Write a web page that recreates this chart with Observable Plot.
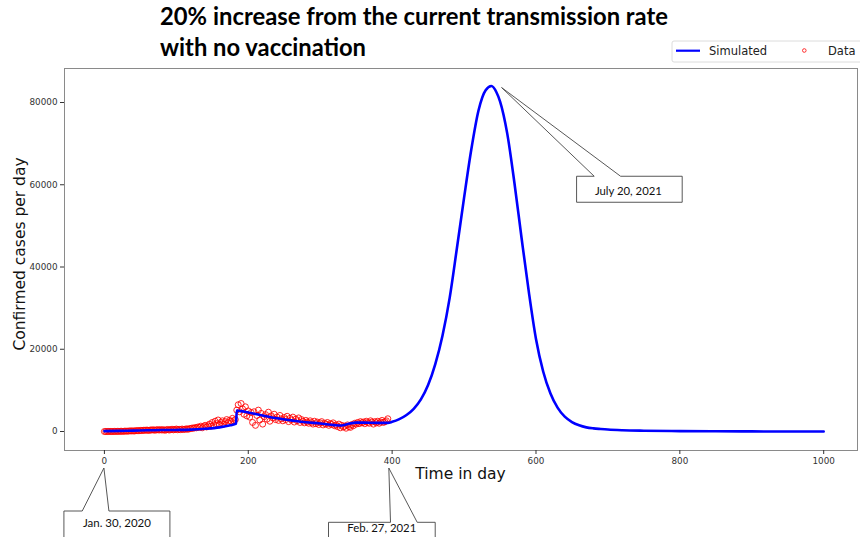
<!DOCTYPE html>
<html><head><meta charset="utf-8">
<script src="https://cdn.jsdelivr.net/npm/d3@7"></script>
<script src="https://cdn.jsdelivr.net/npm/@observablehq/plot@0.6"></script>
<style>
body{margin:0;background:#fff;}
#chart{width:860px;height:537px;overflow:hidden;}
</style></head>
<body><div id="chart"></div>
<script>
// ---- data ----
const titleLines = ["20% increase from the current transmission rate", "with no vaccination"];
const xLabel = "Time in day";
const yLabel = "Confirmed cases per day";
const xTicks = [0, 200, 400, 600, 800, 1000];
const yTicks = [0, 20000, 40000, 60000, 80000];
const legendLabels = ["Simulated", "Data"];

const simDays = [0,20,40,60,80,100,120,140,160,175,183,184,190,200,220,240,260,280,300,320,330,340,350,360,380,394,400,410,420,430,440,450,460,470,480,490,500,510,520,530,538,545,550,560,570,580,590,600,610,620,630,640,650,660,670,680,690,700,720,750,800,850,900,950,1000];
const simValues = [100,150,220,300,350,380,450,650,1000,1500,1900,5100,4950,4600,3900,3200,2700,2250,1950,1550,1450,1900,2150,2150,2100,2100,2350,3000,4000,5500,7800,11300,16400,23300,32500,44500,56800,68500,78000,83000,84000,82500,80300,72500,60500,47000,34000,22500,14600,9300,5800,3600,2300,1500,1000,750,600,470,310,190,90,45,20,10,5];

const obsDays = [
0,2,4,6,8,10,12,14,16,18,20,22,24,26,28,30,32,34,36,38,
40,42,44,46,48,50,52,54,56,58,60,62,64,66,68,70,72,74,76,78,
80,82,84,86,88,90,92,94,96,98,100,102,104,106,108,110,112,114,116,118,
120,122,124,126,128,130,132,134,136,138,140,142,144,146,148,150,152,154,156,158,
160,162,164,166,168,170,172,174,176,178,180,182,184,186,188,190,192,194,196,198,
200,202,204,206,208,210,212,214,216,218,220,222,224,226,228,230,232,234,236,238,
240,242,244,246,248,250,252,254,256,258,260,262,264,266,268,270,272,274,276,278,
280,282,284,286,288,290,292,294,296,298,300,302,304,306,308,310,312,314,316,318,
320,322,324,326,328,330,332,334,336,338,340,342,344,346,348,350,352,354,356,358,
360,362,364,366,368,370,372,374,376,378,380,382,384,386,388,390,392,394];
const obsValues = [
0,0,0,10,20,0,10,30,20,40,30,50,60,40,80,100,70,120,150,130,
150,120,200,220,180,260,240,300,280,340,320,260,380,350,420,300,400,440,350,460,
350,450,300,400,500,350,450,550,400,480,600,420,520,450,600,480,550,650,520,700,
700,850,780,950,900,1100,1000,1300,900,1200,1500,1100,1400,1800,1300,2200,1600,2500,1900,2800,
1700,2200,2600,1800,2400,2900,2100,2700,2500,3200,2600,2900,5200,6500,4800,6800,5500,4200,6000,3800,
5000,3500,4600,2200,4800,1500,3900,5200,2800,4400,1800,3600,4100,3000,4700,2500,3800,3300,4200,2900,
3500,2700,3900,3100,2600,3400,2900,3700,2400,3200,2800,3500,2300,3000,2600,3300,2200,2900,2500,2100,
2700,2300,2000,2600,2200,1800,2500,1900,2300,1700,2100,2400,1600,2000,1800,2200,1500,1900,1700,2100,
1400,1600,1200,1800,900,1500,1100,1300,800,1600,1200,1000,1700,1400,2000,1800,2200,1900,2400,2100,
2300,1900,2500,2200,2000,2600,2300,1800,2400,2100,2500,2000,2300,2700,2200,2400,2600,3100];

const annotations = [
  {day: 0, label: "Jan. 30, 2020"},
  {day: 394, label: "Feb. 27, 2021"},
  {day: 538, label: "July 20, 2021"}
];

const sim = simDays.map((d, i) => ({day: d, value: simValues[i]}));
const obs = obsDays.map((d, i) => ({day: d, value: obsValues[i]}));

const W = 860, H = 537, mT = 68, mB = 87, mL = 64, mR = 3;

const plot = Plot.plot({
  width: W, height: H,
  marginTop: mT, marginBottom: mB, marginLeft: mL, marginRight: mR,
  style: {fontFamily: "DejaVu Sans", fontSize: "8.8px", background: "#fff", color: "#333", overflow: "visible"},
  x: {domain: [-55.5, 1047]},
  y: {domain: [-4620, 88270]},
  marks: [
    Plot.dot(obs, {x: "day", y: "value", r: 3, stroke: "#ff0000", strokeWidth: 0.85, fill: "none"}),
    Plot.line(sim, {x: "day", y: "value", stroke: "#0000ff", strokeWidth: 2.6, curve: "monotone-x"}),
    Plot.frame({stroke: "#8a8a8a"}),
    Plot.axisX({ticks: xTicks, tickSize: 4, tickPadding: 3, label: null, tickFormat: d => String(d)}),
    Plot.axisY({ticks: yTicks, tickSize: 4, tickPadding: 3, label: null, tickFormat: d => String(d)})
  ]
});
document.getElementById("chart").appendChild(plot);

const sx = plot.scale("x").apply, sy = plot.scale("y").apply;
const svg = d3.select(plot);
const ov = svg.append("g").attr("text-anchor", "start");

// title
[[25, 508], [56, 206]].forEach(([by, len], i) => {
  ov.append("text").attr("x", 160).attr("y", by).attr("text-anchor", "start")
    .attr("font-family", "Lato, 'Open Sans', sans-serif").attr("font-weight", 700).attr("font-size", 25)
    .attr("fill", "#000").attr("textLength", len).attr("lengthAdjust", "spacingAndGlyphs")
    .text(titleLines[i]);
});

// axis labels
ov.append("text").attr("x", (mL + W - mR) / 2).attr("y", 479).attr("text-anchor", "middle")
  .attr("font-family", "DejaVu Sans").attr("font-size", 15.5).attr("fill", "#111").text(xLabel);
ov.append("text").attr("transform", "translate(25,254) rotate(-90)").attr("text-anchor", "middle")
  .attr("font-family", "DejaVu Sans").attr("font-size", 15.5).attr("fill", "#111").text(yLabel);

// legend
const lg = ov.append("g");
lg.append("rect").attr("x", 672).attr("y", 41).attr("width", 200).attr("height", 21).attr("rx", 2)
  .attr("fill", "#fff").attr("stroke", "#dcdcdc");
lg.append("line").attr("x1", 676).attr("x2", 700).attr("y1", 50.7).attr("y2", 50.7)
  .attr("stroke", "#0000ff").attr("stroke-width", 2.2);
lg.append("text").attr("x", 709).attr("y", 55).attr("text-anchor", "start").attr("font-family", "DejaVu Sans").attr("font-size", 11.5)
  .attr("fill", "#222").text(legendLabels[0]);
lg.append("circle").attr("cx", 804.3).attr("cy", 50.5).attr("r", 1.8).attr("fill", "none")
  .attr("stroke", "#ff0000").attr("stroke-width", 0.8);
lg.append("text").attr("x", 828).attr("y", 55).attr("text-anchor", "start").attr("font-family", "DejaVu Sans").attr("font-size", 11.5)
  .attr("fill", "#222").text(legendLabels[1]);

// callouts
function callout(tip, box, b1, b2, label, tx, ty, tw) {
  const [x0, y0, x1, y1] = box;
  const d = `M${b1},${y0}L${tip[0]},${tip[1]}L${b2},${y0}L${x1},${y0}L${x1},${y1}L${x0},${y1}L${x0},${y0}Z`;
  ov.append("path").attr("d", d).attr("fill", "#fff").attr("stroke", "#444").attr("stroke-width", 0.9);
  ov.append("text").attr("x", tx).attr("y", ty).attr("text-anchor", "middle")
    .attr("font-family", "Lato, 'Open Sans', sans-serif").attr("font-size", 12)
    .attr("fill", "#111").attr("textLength", tw).attr("lengthAdjust", "spacingAndGlyphs").text(label);
}
const fb = H - mB;
{
  const t = sx(annotations[0].day);
  callout([t, fb + 18], [t - 40, 511, t + 66, 542], t - 21.7, t + 5, annotations[0].label, t + 13, 527, 68);
}
{
  const t = sx(annotations[1].day) + 1.5;
  callout([t, fb + 18], [t - 60.3, 522.3, t + 46.4, 545], t + 1.7, t + 28.4, annotations[1].label, t - 7, 531.5, 69);
}
{
  const px = sx(annotations[2].day), py = sy(84000);
  callout([px + 10.7, py + 2], [px + 85.7, py + 90.7, px + 191.3, py + 116.7], px + 103.3, px + 129.7,
    annotations[2].label, px + 137.5, py + 109.5, 67);
}
</script>
</body></html>
